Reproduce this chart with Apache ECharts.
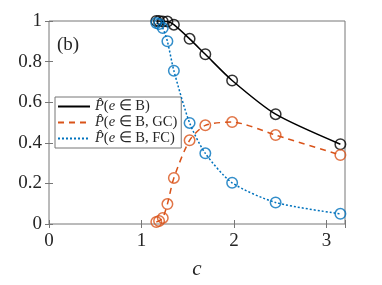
<!DOCTYPE html>
<html><head><meta charset="utf-8">
<script src="https://cdn.jsdelivr.net/npm/echarts@6/dist/echarts.min.js"></script>
<style>html,body{margin:0;padding:0;background:#fff}#c{width:382px;height:285px}</style>
</head><body><div id="c"></div>
<script>
const cValues = [1.16, 1.19, 1.23, 1.28, 1.35, 1.52, 1.69, 1.98, 2.45, 3.15];
const pB  = [1.0, 1.0, 0.998, 0.997, 0.982, 0.912, 0.836, 0.707, 0.541, 0.393];
const pGC = [0.01, 0.015, 0.03, 0.098, 0.227, 0.412, 0.486, 0.502, 0.438, 0.34];
const pFC = [0.99, 0.985, 0.965, 0.9, 0.755, 0.498, 0.348, 0.203, 0.106, 0.05];
const xTicks = [0, 1, 2, 3];
const yTicks = [0, 0.2, 0.4, 0.6, 0.8, 1];
const names = ['B', 'B, GC', 'B, FC'];
const colors = ['#000000', '#D95319', '#0072BD'];
const lineTypes = ['solid', [6, 5], [2, 2]];
const seriesVals = [pB, pGC, pFC];

const serif = 'Liberation Serif';
const axisCol = '#262626';
const pair = v => cValues.map((c, i) => [c, v[i]]);

const series = [];
seriesVals.forEach((v, k) => {
  series.push({
    name: names[k], type: 'line', data: pair(v), symbol: 'none', smooth: 0.25,
    lineStyle: {color: colors[k], width: 1.5, type: lineTypes[k]},
    itemStyle: {color: colors[k]}, z: 3 + k
  });
  series.push({
    type: 'scatter', data: pair(v), symbol: 'circle', symbolSize: 10.5,
    itemStyle: {color: 'rgba(0,0,0,0)', borderColor: colors[k], borderWidth: 1.5}, z: 6 + k
  });
});

const chart = echarts.init(document.getElementById('c'), null, {renderer: 'canvas'});
chart.setOption({
  animation: false,
  grid: {left: 49, top: 21, right: 37, bottom: 57, show: true, borderColor: '#777', borderWidth: 1, backgroundColor: '#fff'},
  xAxis: [{
    type: 'value', min: 0, max: 3.2, interval: 1,
    axisLine: {show: false}, splitLine: {show: false},
    axisTick: {inside: true, length: 4, lineStyle: {color: '#777'}},
    axisLabel: {color: axisCol, fontFamily: serif, fontSize: 19, margin: 8, formatter: v => xTicks.includes(v) ? String(v) : ''},
    name: 'c', nameLocation: 'middle', nameGap: 35,
    nameTextStyle: {color: axisCol, fontFamily: serif, fontSize: 21, fontStyle: 'italic'}
  }, {
    type: 'value', min: 0, max: 3.2, interval: 1, position: 'top',
    axisLine: {show: false}, splitLine: {show: false}, axisLabel: {show: false},
    axisTick: {inside: true, length: 4, lineStyle: {color: '#777'}}
  }],
  yAxis: [{
    type: 'value', min: 0, max: 1, interval: 0.2,
    axisLine: {show: false}, splitLine: {show: false},
    axisTick: {inside: true, length: 4, lineStyle: {color: '#777'}},
    axisLabel: {color: axisCol, fontFamily: serif, fontSize: 19, margin: 7, formatter: v => {
      const t = yTicks.find(y => Math.abs(y - v) < 1e-9); return t === undefined ? '' : String(t);
    }}
  }, {
    type: 'value', min: 0, max: 1, interval: 0.2, position: 'right',
    axisLine: {show: false}, splitLine: {show: false}, axisLabel: {show: false},
    axisTick: {inside: true, length: 4, lineStyle: {color: '#777'}}
  }],
  legend: {
    data: names, orient: 'vertical', left: 55, top: 97, itemGap: 1,
    itemWidth: 32, itemHeight: 15, padding: [2, 4, 2, 2],
    itemStyle: {opacity: 0},
    backgroundColor: '#fff', borderColor: '#777', borderWidth: 1, borderRadius: 0,
    formatter: n => '{i|P\u0302}{r|(}{i|e}{r| \u2208 ' + n + ')}',
    textStyle: {rich: {
      i: {fontFamily: serif, fontStyle: 'italic', fontSize: 14.5, color: axisCol},
      r: {fontFamily: serif, fontSize: 14.5, color: axisCol}
    }}
  },
  graphic: [{type: 'text', left: 57, top: 36, style: {text: '(b)', font: '19px "Liberation Serif"', fill: axisCol}}],
  series: series
});
</script></body></html>
